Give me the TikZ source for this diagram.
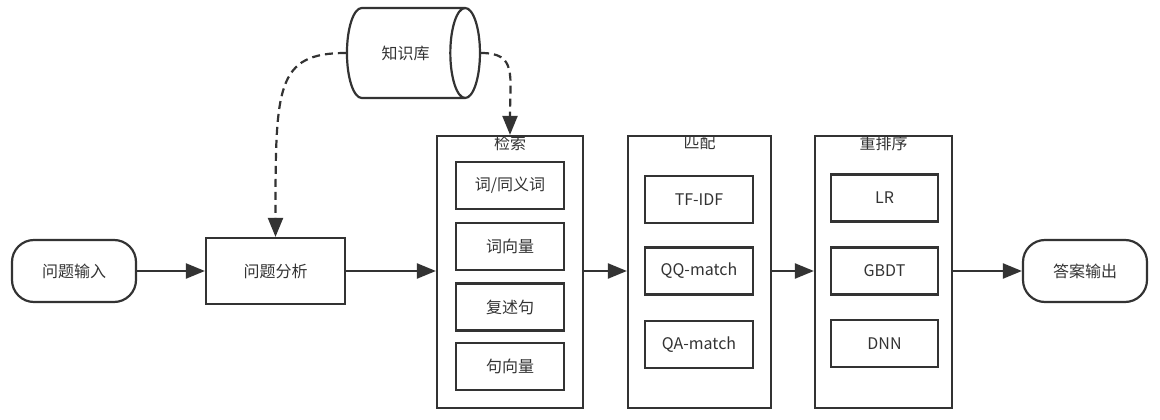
\documentclass[tikz,border=0pt]{standalone}
\usepackage{fontspec}
\newfontfamily\cjk{Noto Sans CJK SC}
\usepackage{tikz}
\usetikzlibrary{shapes.geometric, arrows.meta, positioning}
\definecolor{linegray}{HTML}{333333}
\definecolor{textgray}{HTML}{333333}

\begin{document}
\begin{tikzpicture}[
    x=1pt, y=-1pt,
    term/.style  = {rectangle, rounded corners=22pt, draw=linegray, line width=2.2pt,
                    minimum width=124pt, minimum height=62pt,
                    font=\cjk\fontsize{16}{18}\selectfont\color{textgray}},
    proc/.style  = {rectangle, draw=linegray, line width=2.2pt,
                    minimum width=139pt, minimum height=66pt,
                    font=\cjk\fontsize{16}{18}\selectfont\color{textgray}},
    stage/.style = {rectangle, draw=linegray, line width=2.2pt,
                    minimum height=272pt, inner sep=0pt},
    title/.style = {inner sep=1pt, font=\cjk\fontsize{16}{18}\selectfont\color{textgray}},
    item/.style  = {rectangle, draw=linegray, line width=2.2pt,
                    minimum width=108pt, minimum height=47pt,
                    font=\cjk\fontsize{16}{18}\selectfont\color{textgray}},
    kb/.style    = {cylinder, draw=linegray, line width=2.2pt, aspect=2,
                    minimum width=90pt, minimum height=133pt, inner sep=0pt,
                    font=\cjk\fontsize{16}{18}\selectfont\color{textgray}},
    arr/.style   = {-{Triangle[length=19pt,width=15pt]}, line width=2.2pt, color=linegray},
    darr/.style  = {arr, dash pattern=on 8pt off 5pt},
  ]
    \useasboundingbox (0,0) rectangle (1160,420);

    % ── Input and analysis ───────────────────────────────────
    \node[term] (qin) at (74, 271) {问题输入};
    \node[proc] (ana) at (275.5, 271) {问题分析};
    \node[kb]   (kbase) at (405.5, 53) {知识库};

    % ── Stage containers ─────────────────────────────────────
    \node[stage, minimum width=146pt] (ret) at (510, 272) {};
    \node[stage, minimum width=143pt] (mat) at (699.5, 272) {};
    \node[stage, minimum width=137pt] (rrk) at (883.5, 272) {};
    \node[title, anchor=north] (rett) at (ret.north) {检索};
    \node[title, anchor=north] (matt) at (mat.north) {匹配};
    \node[title, anchor=north] (rrkt) at (rrk.north) {重排序};

    % ── Retrieval items ──────────────────────────────────────
    \node[item] (syn)  at (510, 185.5) {词/同义词};
    \node[item] (wvec) at (510, 246.5) {词向量};
    \node[item] (para) at (510, 307)   {复述句};
    \node[item] (svec) at (510, 366.5) {句向量};

    % ── Matching items ───────────────────────────────────────
    \node[item] (tfidf) at (699, 199.5) {TF-IDF};
    \node[item] (qq)    at (699, 271)   {QQ-match};
    \node[item] (qa)    at (699, 344.5) {QA-match};

    % ── Rerank items ─────────────────────────────────────────
    \node[item, minimum width=107pt] (lr)   at (884.5, 198)   {LR};
    \node[item, minimum width=107pt] (gbdt) at (884.5, 271)   {GBDT};
    \node[item, minimum width=107pt] (dnn)  at (884.5, 343.5) {DNN};

    \node[term] (qout) at (1085, 271) {答案输出};

    % ── Flow ─────────────────────────────────────────────────
    \draw[arr] (qin.east) -- (ana.west);
    \draw[arr] (ana.east) -- (ana.east -| ret.west);
    \draw[arr] (ret.east |- qq) -- (qq -| mat.west);
    \draw[arr] (mat.east |- gbdt) -- (gbdt -| rrk.west);
    \draw[arr] (rrk.east |- qout) -- (qout.west);

    % ── Knowledge base links ─────────────────────────────────
    \draw[darr] (kbase.west) .. controls +(-70,0) and +(0,-150) .. (ana.north);
    \draw[darr] (kbase.east) .. controls +(36,0) and +(0,-60) .. (ret.north);

  \end{tikzpicture}
\end{document}
